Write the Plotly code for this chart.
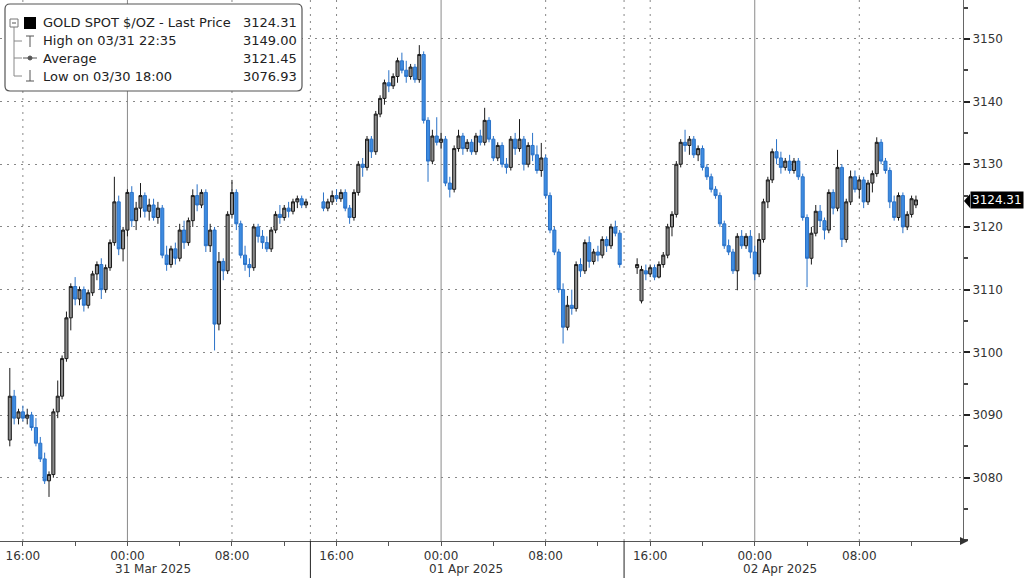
import plotly.graph_objects as go
import pandas as pd

# ---------------- data (20-minute bars) ----------------
seg_starts = ["2025-03-30 15:00", "2025-03-31 15:00", "2025-04-01 15:00"]
bar_freq = "20min"

s1_open = [3086, 3093, 3089.5, 3090.5, 3089.5, 3090, 3088, 3085.5, 3083, 3079.5,
           3080.5, 3090.5, 3093, 3099, 3105.5, 3110.5, 3108.5, 3110, 3107.5, 3109.5,
           3112.5, 3114, 3110, 3113.5, 3117.5, 3124, 3116.5, 3119.5, 3125.5, 3121,
           3123, 3125, 3122.5, 3123.5, 3121.5, 3123, 3115.5, 3114, 3116.5, 3115,
           3119.5, 3117.5, 3121, 3125, 3123.5, 3125.5, 3117, 3119.5, 3104.5, 3114.5,
           3113, 3122, 3125.5, 3120.5, 3115.5, 3114, 3113.5, 3120, 3118.5, 3117.5,
           3116.5, 3119.5, 3122, 3121.5, 3123, 3122.5, 3124, 3124.5, 3123.5]
s1_high = [3097.5, 3094, 3091, 3091.5, 3091, 3090.5, 3089.5, 3086.5, 3084, 3081,
           3091, 3095.5, 3099.5, 3106.5, 3111, 3112, 3110.5, 3110.5, 3110, 3113,
           3114.5, 3115, 3114, 3118, 3128, 3125, 3120, 3126, 3126.5, 3124,
           3127, 3125.5, 3124.5, 3124.5, 3124, 3123.5, 3117, 3117, 3117.5, 3120.5,
           3121, 3121.5, 3126, 3126.8, 3126, 3126, 3120.5, 3120, 3116, 3115,
           3122.5, 3127.5, 3126, 3121, 3117, 3115, 3120.5, 3120.5, 3119.5, 3118.5,
           3120, 3122.5, 3123.5, 3123.5, 3124, 3124.5, 3125, 3125, 3124.5]
s1_low = [3085, 3088.5, 3088.5, 3089, 3088.5, 3087.5, 3085, 3082.5, 3079, 3076.93,
          3080, 3089.5, 3092.5, 3098.5, 3103.5, 3107.5, 3107.5, 3106.5, 3107, 3109,
          3111.5, 3108.5, 3109.5, 3113, 3117, 3115.5, 3114.5, 3118.5, 3120, 3119.5,
          3121.5, 3121.5, 3121, 3121, 3120.5, 3115, 3113, 3113.5, 3114, 3114.5,
          3116.5, 3117, 3120, 3122.5, 3123, 3116, 3116, 3100.3, 3103.5, 3111.5,
          3112.5, 3121.5, 3119.5, 3115, 3113, 3112, 3113, 3117.5, 3116.5, 3116,
          3116, 3119, 3120.5, 3121, 3121.5, 3122, 3123, 3123, 3123]
s1_close = [3093, 3089.5, 3090.5, 3089.5, 3090, 3088, 3085.5, 3083, 3079.5, 3080.5,
            3090.5, 3093, 3099, 3105.5, 3110.5, 3108.5, 3110, 3107.5, 3109.5, 3112.5,
            3114, 3110, 3113.5, 3117.5, 3124, 3116.5, 3119.5, 3125.5, 3121, 3123,
            3125, 3122.5, 3123.5, 3121.5, 3123, 3115.5, 3114, 3116.5, 3115, 3119.5,
            3117.5, 3121, 3125, 3123.5, 3125.5, 3117, 3119.5, 3104.5, 3114.5, 3113,
            3122, 3125.5, 3120.5, 3115.5, 3114, 3113.5, 3120, 3118.5, 3117.5, 3116.5,
            3119.5, 3122, 3121.5, 3123, 3122.5, 3124, 3124.5, 3123.5, 3124]

s2_open = [3124, 3123, 3124, 3125, 3124.5, 3125.5, 3123, 3121.5, 3125.5, 3130,
           3129.5, 3134, 3132, 3138, 3140.5, 3143, 3142.5, 3144, 3146.5, 3145,
           3144, 3145.5, 3143.5, 3147.5, 3137, 3130.5, 3134.5, 3133.5, 3134, 3127,
           3126, 3132.5, 3134.5, 3132.5, 3133.5, 3132, 3134.5, 3133.5, 3137, 3134,
           3131, 3133, 3130, 3129.5, 3134, 3132.5, 3134, 3130, 3133, 3131.5,
           3129, 3131, 3125, 3119.5, 3116, 3110, 3104, 3107.5, 3107, 3114,
           3113, 3117.5, 3114.5, 3116, 3115.5, 3118, 3117, 3120, 3119]
s2_high = [3125.5, 3124.5, 3125.8, 3126, 3126, 3126, 3123.5, 3126, 3130.5, 3131,
           3134.5, 3134.5, 3138.5, 3141, 3143.5, 3145, 3144.5, 3147, 3147.8, 3146.5,
           3146, 3146, 3149, 3148, 3137.5, 3135.5, 3137.5, 3135, 3134.5, 3128,
           3133, 3135.5, 3135, 3134, 3134, 3135, 3135.5, 3139, 3137.5, 3134.5,
           3133.5, 3133.5, 3131, 3134.5, 3135, 3137.2, 3134.5, 3133.5, 3135, 3133,
           3133.4, 3131.5, 3125.5, 3120, 3116.5, 3111, 3109, 3110, 3114.5, 3115,
           3118, 3118.5, 3116.5, 3117, 3118.5, 3118.5, 3120.5, 3121, 3119.5]
s2_low = [3122.5, 3122.5, 3123.5, 3124, 3124, 3122.5, 3120.5, 3121, 3125, 3128,
          3129, 3131, 3131.5, 3137.5, 3139.5, 3141.5, 3142, 3143, 3144.5, 3143,
          3143.5, 3143, 3143, 3136.5, 3127.2, 3130, 3133, 3132.5, 3126.5, 3124.7,
          3125.5, 3132, 3131.5, 3132, 3131.5, 3131.5, 3133, 3133, 3133.5, 3130.5,
          3130.5, 3129.5, 3128.5, 3129, 3131.5, 3132, 3129, 3129.5, 3130.5, 3128.5,
          3128, 3124.5, 3119, 3115.5, 3109.5, 3101.4, 3103.5, 3106, 3106.5, 3112,
          3112.5, 3113.5, 3114, 3114.5, 3115, 3116, 3116.5, 3118.5, 3113.5]
s2_close = [3123, 3124, 3125, 3124.5, 3125.5, 3123, 3121.5, 3125.5, 3130, 3129.5,
            3134, 3132, 3138, 3140.5, 3143, 3142.5, 3144, 3146.5, 3145, 3144,
            3145.5, 3143.5, 3147.5, 3137, 3130.5, 3134.5, 3133.5, 3134, 3127, 3126,
            3132.5, 3134.5, 3132.5, 3133.5, 3132, 3134.5, 3133.5, 3137, 3134, 3131,
            3133, 3130, 3129.5, 3134, 3132.5, 3134, 3130, 3133, 3131.5, 3129,
            3131, 3125, 3119.5, 3116, 3110, 3104, 3107.5, 3107, 3114, 3113,
            3117.5, 3114.5, 3116, 3115.5, 3118, 3117, 3120, 3119, 3114]

s3_open = [3113.5, 3108.2, 3113, 3112.5, 3113.5, 3112, 3114, 3115.5, 3120, 3122,
           3130, 3133.5, 3133, 3134, 3131.5, 3132.5, 3129.5, 3128, 3126, 3125,
           3120.5, 3117, 3116, 3113, 3118.5, 3117, 3118.5, 3116, 3112.5, 3118,
           3124, 3127.5, 3132, 3131, 3129.5, 3130.5, 3129, 3130.5, 3128, 3121.5,
           3115, 3119, 3122.5, 3121, 3119.5, 3125.5, 3123, 3129.5, 3118, 3124,
           3128, 3126, 3127.5, 3124, 3127, 3128.5, 3133.5, 3130.5, 3129, 3124,
           3121.5, 3125, 3120, 3122, 3123.5]
s3_high = [3115, 3113.8, 3114, 3114, 3114, 3114.5, 3116, 3120.5, 3122.5, 3130.5,
           3134, 3135.5, 3134.5, 3134.5, 3133, 3133, 3130, 3128.5, 3126.5, 3125.5,
           3121, 3118, 3116.5, 3119, 3119.5, 3119, 3119.5, 3117, 3119, 3124.5,
           3128, 3132.5, 3134, 3132, 3131, 3131.5, 3131, 3131, 3128.5, 3122,
           3120, 3123.5, 3123.5, 3121.5, 3126, 3126, 3132.3, 3130, 3124.5, 3129,
           3129, 3128, 3128, 3127.5, 3129, 3134.3, 3134, 3131, 3129.5, 3125,
           3125.5, 3125.5, 3122.5, 3125, 3125]
s3_low = [3112.5, 3107.8, 3111.5, 3112, 3111.5, 3111.8, 3113.5, 3115, 3118.5, 3121.5,
          3129.5, 3132, 3131.5, 3131, 3130.5, 3129, 3127.5, 3125.5, 3124.5, 3120,
          3116.5, 3115.5, 3112.5, 3109.9, 3116.5, 3116.5, 3115, 3111.5, 3112, 3117.5,
          3123, 3127, 3130, 3128.5, 3129, 3128.5, 3128.5, 3127.5, 3121, 3110.4,
          3114, 3118.5, 3120, 3118, 3119, 3122, 3122.5, 3116.8, 3117.5, 3123.5,
          3125.5, 3124.5, 3123, 3123.5, 3125.5, 3128, 3130, 3128.5, 3123, 3121,
          3121, 3119, 3119.5, 3121.5, 3123]
s3_close = [3114, 3113.2, 3112.5, 3113.5, 3112, 3114, 3115.5, 3120, 3122, 3130,
            3133.5, 3133, 3134, 3131.5, 3132.5, 3129.5, 3128, 3126, 3125, 3120.5,
            3117, 3116, 3113, 3118.5, 3117, 3118.5, 3116, 3112.5, 3118, 3124,
            3127.5, 3132, 3131, 3129.5, 3130.5, 3129, 3130.5, 3128, 3121.5, 3115,
            3119, 3122.5, 3121, 3119.5, 3125.5, 3123, 3129.5, 3118, 3124, 3128,
            3126, 3127.5, 3124, 3127, 3128.5, 3133.5, 3130.5, 3129, 3124, 3121.5,
            3125, 3120, 3122, 3124.5, 3124.31]

legend_title = "GOLD SPOT $/OZ - Last Price"
legend_rows = ["High on 03/31 22:35", "Average", "Low on 03/30 18:00"]
legend_vals = ["3124.31", "3149.00", "3121.45", "3076.93"]
last_price = 3124.31

y_ticks = [3080, 3090, 3100, 3110, 3120, 3130, 3140, 3150]
x_label_times = ["2025-03-30 16:00", "2025-03-31 00:00", "2025-03-31 08:00",
                 "2025-03-31 16:00", "2025-04-01 00:00", "2025-04-01 08:00",
                 "2025-04-01 16:00", "2025-04-02 00:00", "2025-04-02 08:00"]
x_label_text = ["16:00", "00:00", "08:00"] * 3
day_lines = ["2025-03-31 00:00", "2025-04-01 00:00", "2025-04-02 00:00"]
session_lines = ["2025-03-31 14:00", "2025-04-01 14:00"]
date_labels = ["31 Mar 2025", "01 Apr 2025", "02 Apr 2025"]
x_range = ["2025-03-30 14:15", "2025-04-02 15:56"]
y_range = [3069.9, 3156.2]

# ---------------- build candles ----------------
segs = [(s1_open, s1_high, s1_low, s1_close),
        (s2_open, s2_high, s2_low, s2_close),
        (s3_open, s3_high, s3_low, s3_close)]
frames = []
for start, (o, h, l, c) in zip(seg_starts, segs):
    t = pd.date_range(start, periods=len(o), freq=bar_freq)
    frames.append(pd.DataFrame({"t": t, "o": o, "h": h, "l": l, "c": c}))
df = pd.concat(frames, ignore_index=True)

W, H = 1024, 578
ML, MR, MT, MB = 0, 61, 0, 37
PW, PH = W - ML - MR, H - MT - MB


def px(x):
    return (x - ML) / PW


def py(y):
    return 1 - (y - MT) / PH


fig = go.Figure()
fig.add_trace(go.Candlestick(
    x=df["t"], open=df["o"], high=df["h"], low=df["l"], close=df["c"],
    increasing=dict(line=dict(color="#1a1a1a", width=1), fillcolor="#8c8c8c"),
    decreasing=dict(line=dict(color="#2a72c8", width=1), fillcolor="#3d8be0"),
    whiskerwidth=0, showlegend=False, hoverinfo="skip",
))

DOT = "2px,5px"
shapes = []
for d in day_lines:
    shapes.append(dict(type="line", xref="x", yref="paper", x0=d, x1=d, y0=0, y1=1,
                       line=dict(color="#8a8a8a", width=1), layer="below"))
dotted = [t for t, s in zip(x_label_times, x_label_text) if s != "00:00"] + session_lines
for d in dotted:
    shapes.append(dict(type="line", xref="x", yref="paper", x0=d, x1=d, y0=0, y1=1,
                       line=dict(color="#888", width=1, dash=DOT), layer="below"))
for d in session_lines:
    shapes.append(dict(type="line", xref="x", yref="paper", x0=d, x1=d, y0=0, y1=-MB / PH,
                       line=dict(color="#222", width=1)))
# axis arrow at right end of x axis
shapes.append(dict(type="path", xref="paper", yref="paper",
                   path=f"M {px(960)} {py(537)} L {px(968)} {py(541)} L {px(960)} {py(545)} Z",
                   fillcolor="#333", line=dict(width=0)))
# last price tag pointer
shapes.append(dict(type="path", xref="paper", yref="paper",
                   path=f"M {px(964)} {py(201)} L {px(970)} {py(194)} L {px(970)} {py(208)} Z",
                   fillcolor="#000", line=dict(width=0)))

# legend box (rounded rectangle)
x0, y0, x1, y1, r = 5, 4, 302, 91, 5
path = (f"M {px(x0 + r)} {py(y0)} L {px(x1 - r)} {py(y0)} "
        f"Q {px(x1)} {py(y0)} {px(x1)} {py(y0 + r)} L {px(x1)} {py(y1 - r)} "
        f"Q {px(x1)} {py(y1)} {px(x1 - r)} {py(y1)} L {px(x0 + r)} {py(y1)} "
        f"Q {px(x0)} {py(y1)} {px(x0)} {py(y1 - r)} L {px(x0)} {py(y0 + r)} "
        f"Q {px(x0)} {py(y0)} {px(x0 + r)} {py(y0)} Z")
shapes.append(dict(type="path", xref="paper", yref="paper", path=path,
                   fillcolor="white", line=dict(color="#555", width=1.2)))
row_y = [23, 41, 58, 76]
gl = dict(color="#888", width=1)
# tree lines
shapes.append(dict(type="line", xref="paper", yref="paper", x0=px(14), x1=px(14),
                   y0=py(27), y1=py(row_y[3]), line=gl))
for ry in row_y[1:]:
    shapes.append(dict(type="line", xref="paper", yref="paper", x0=px(14), x1=px(22),
                       y0=py(ry), y1=py(ry), line=gl))
# small collapse box
shapes.append(dict(type="rect", xref="paper", yref="paper", x0=px(10), x1=px(18),
                   y0=py(19), y1=py(27), line=dict(color="#777", width=1), fillcolor="white"))
shapes.append(dict(type="line", xref="paper", yref="paper", x0=px(12), x1=px(16),
                   y0=py(23), y1=py(23), line=dict(color="#555", width=1)))
# black square
shapes.append(dict(type="rect", xref="paper", yref="paper", x0=px(24), x1=px(36),
                   y0=py(17), y1=py(29), line=dict(width=0), fillcolor="#000"))
ic = dict(color="#555", width=1)
# high icon
shapes.append(dict(type="line", xref="paper", yref="paper", x0=px(30), x1=px(30),
                   y0=py(36), y1=py(47), line=ic))
shapes.append(dict(type="line", xref="paper", yref="paper", x0=px(26), x1=px(34),
                   y0=py(36), y1=py(36), line=ic))
# average icon
shapes.append(dict(type="line", xref="paper", yref="paper", x0=px(23), x1=px(37),
                   y0=py(58), y1=py(58), line=ic))
shapes.append(dict(type="circle", xref="paper", yref="paper", x0=px(28), x1=px(32),
                   y0=py(56), y1=py(60), line=ic, fillcolor="#555"))
# low icon
shapes.append(dict(type="line", xref="paper", yref="paper", x0=px(30), x1=px(30),
                   y0=py(70), y1=py(81), line=ic))
shapes.append(dict(type="line", xref="paper", yref="paper", x0=px(26), x1=px(34),
                   y0=py(81), y1=py(81), line=ic))

FONT = "DejaVu Sans"
annotations = []
labels = [legend_title] + legend_rows
for lab, val, ry in zip(labels, legend_vals, row_y):
    annotations.append(dict(xref="paper", yref="paper", x=px(41), y=py(ry), text=lab,
                            xanchor="left", yanchor="middle", showarrow=False,
                            font=dict(family=FONT, size=13, color="#222")))
    annotations.append(dict(xref="paper", yref="paper", x=px(299), y=py(ry), text=val,
                            xanchor="right", yanchor="middle", showarrow=False,
                            font=dict(family=FONT, size=13, color="#222")))
for d, lab in zip(day_lines, date_labels):
    annotations.append(dict(xref="x", yref="paper", x=d, y=py(569), text=lab,
                            xanchor="left", yanchor="middle", xshift=-14, showarrow=False,
                            font=dict(family=FONT, size=12, color="#333")))
annotations.append(dict(xref="paper", yref="y", x=px(970), y=last_price,
                        text=f"{last_price:.2f}", xanchor="left", yanchor="middle",
                        showarrow=False, bgcolor="#000", borderpad=1,
                        font=dict(family=FONT, size=12, color="#fff")))

fig.update_layout(
    width=W, height=H,
    margin=dict(l=ML, r=MR, t=MT, b=MB, pad=0),
    paper_bgcolor="white", plot_bgcolor="white",
    font=dict(family=FONT, size=12, color="#333"),
    boxgap=0.3, boxgroupgap=0,
    shapes=shapes, annotations=annotations,
    xaxis=dict(type="date", range=x_range, rangeslider=dict(visible=False),
               tickmode="array", tickvals=x_label_times, ticktext=x_label_text,
               showgrid=False, zeroline=False, showline=True, linecolor="#555",
               ticks="outside", ticklen=4, tickcolor="#555",
               minor=dict(dtick=4 * 3600 * 1000, tick0="2025-03-30 00:00",
                          ticks="outside", ticklen=4, tickcolor="#555"),
               tickfont=dict(family=FONT, size=12, color="#333"), automargin=False),
    yaxis=dict(side="right", range=y_range, tickmode="array", tickvals=y_ticks,
               showgrid=True, gridcolor="#888", griddash=DOT, gridwidth=1,
               zeroline=False, showline=True, linecolor="#666",
               ticks="outside", ticklen=6, tickwidth=2, tickcolor="#222",
               minor=dict(dtick=5, ticks="outside", ticklen=4, tickcolor="#444"),
               tickfont=dict(family=FONT, size=12, color="#333"), automargin=False),
)

fig.write_html(
    "out.html",
    config={"displayModeBar": False, "staticPlot": True},
    post_script="document.body.style.margin='0';document.body.style.padding='0';"
                "document.body.style.overflow='hidden';",
)
